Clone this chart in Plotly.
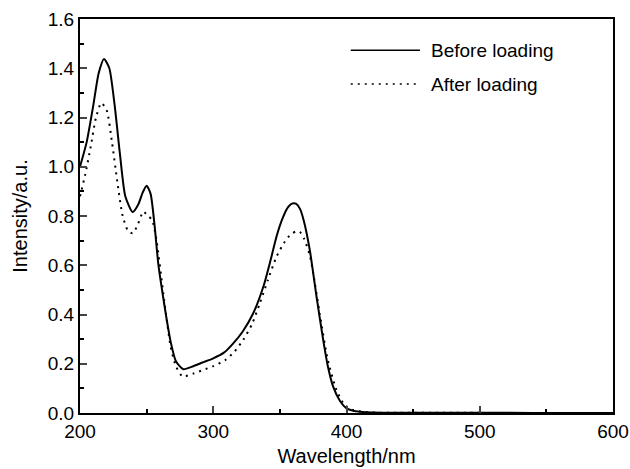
import plotly.graph_objects as go

# Before loading (solid)
before_x = [200, 205, 210, 214, 218, 222, 226, 230, 234, 239.5, 244, 247, 250, 253, 256, 258.7, 261, 264.3, 268, 272, 277.5, 285, 292, 300, 308, 315, 322, 330, 338, 343, 347.5, 352, 356, 359, 362, 365, 368, 372.5, 377.5, 382.5, 386, 390, 395, 400, 405, 410, 420, 440, 480, 520, 560, 600]
before_y = [1.00, 1.10, 1.25, 1.38, 1.438, 1.40, 1.25, 1.05, 0.88, 0.816, 0.85, 0.895, 0.923, 0.89, 0.76, 0.608, 0.52, 0.405, 0.29, 0.21, 0.178, 0.19, 0.205, 0.222, 0.245, 0.283, 0.33, 0.405, 0.52, 0.62, 0.717, 0.79, 0.835, 0.85, 0.85, 0.83, 0.78, 0.66, 0.473, 0.297, 0.19, 0.107, 0.05, 0.019, 0.009, 0.005, 0.002, 0.001, 0.001, 0.001, 0.0, 0.0]

# After loading (dotted)
after_x = [200, 204, 208, 212, 216, 220, 224, 228, 232, 236, 239.5, 243, 247.5, 251, 254, 257, 262.5, 268, 272, 277, 285, 292.5, 300, 309, 316, 322.5, 329, 335, 341, 347.5, 353, 358, 362, 365, 368, 372.5, 375, 380, 386, 392.5, 398.5, 405, 412, 420, 440, 480, 520, 560, 600]
after_y = [0.88, 0.97, 1.08, 1.20, 1.259, 1.23, 1.10, 0.94, 0.80, 0.74, 0.73, 0.76, 0.818, 0.80, 0.785, 0.717, 0.487, 0.27, 0.19, 0.148, 0.16, 0.175, 0.19, 0.215, 0.25, 0.297, 0.36, 0.446, 0.54, 0.635, 0.69, 0.725, 0.737, 0.735, 0.71, 0.64, 0.568, 0.40, 0.215, 0.093, 0.033, 0.012, 0.005, 0.002, 0.001, 0.001, 0.0, 0.0, 0.0]

series_names = ["Before loading", "After loading"]
x_ticks = [200, 300, 400, 500, 600]
y_ticks = [0.0, 0.2, 0.4, 0.6, 0.8, 1.0, 1.2, 1.4, 1.6]
y_tick_text = ["0.0", "0.2", "0.4", "0.6", "0.8", "1.0", "1.2", "1.4", "1.6"]

FONT = "Liberation Sans, Arial, Helvetica, sans-serif"

fig = go.Figure()
fig.add_trace(go.Scatter(x=before_x, y=before_y, mode="lines", name=series_names[0],
                         line=dict(color="black", width=2, shape="spline", smoothing=0.6),
                         showlegend=False))
fig.add_trace(go.Scatter(x=after_x, y=after_y, mode="lines", name=series_names[1],
                         line=dict(color="black", width=2, dash="2px,5px", shape="spline", smoothing=0.6),
                         showlegend=False))

# Manual legend (paper coordinates)
legend_items = [(series_names[0], "solid", 0.921), (series_names[1], "2px,5px", 0.835)]
for name, dash, yy in legend_items:
    fig.add_shape(type="line", xref="paper", yref="paper", x0=0.508, x1=0.638, y0=yy, y1=yy,
                  line=dict(color="black", width=1.5, dash=dash))
    fig.add_annotation(xref="paper", yref="paper", x=0.655, y=yy, text=name, showarrow=False,
                       xanchor="left", yanchor="middle", font=dict(family=FONT, size=19, color="black"))

fig.update_xaxes(range=[200, 600], tickvals=x_ticks, ticks="inside", ticklen=7, tickwidth=1.5,
                 minor=dict(dtick=50, ticks="inside", ticklen=4, tickwidth=1.5, tickcolor="black"),
                 showline=True, linecolor="black", linewidth=2, mirror=True, showgrid=False, zeroline=False,
                 tickfont=dict(family=FONT, size=19, color="black"), automargin=False,
                 title=dict(text="Wavelength/nm", font=dict(family=FONT, size=20, color="black"), standoff=8))
fig.update_yaxes(range=[0, 1.6], tickvals=y_ticks, ticktext=y_tick_text, ticks="inside", ticklen=7, tickwidth=1.5,
                 minor=dict(dtick=0.1, ticks="inside", ticklen=4, tickwidth=1.5, tickcolor="black"),
                 showline=True, linecolor="black", linewidth=2, mirror=True, showgrid=False, zeroline=False,
                 tickfont=dict(family=FONT, size=19, color="black"), automargin=False,
                 title=dict(text="Intensity/a.u.", font=dict(family=FONT, size=20, color="black")))

fig.update_layout(width=630, height=469, margin=dict(l=80, r=17, t=19, b=56),
                  plot_bgcolor="white", paper_bgcolor="white")

# remove the browser's default 8px body margin so the figure fills the window exactly
fig.write_html("out.html", config={"displayModeBar": False},
               post_script="document.body.style.margin='0';document.body.style.overflow='hidden';")
